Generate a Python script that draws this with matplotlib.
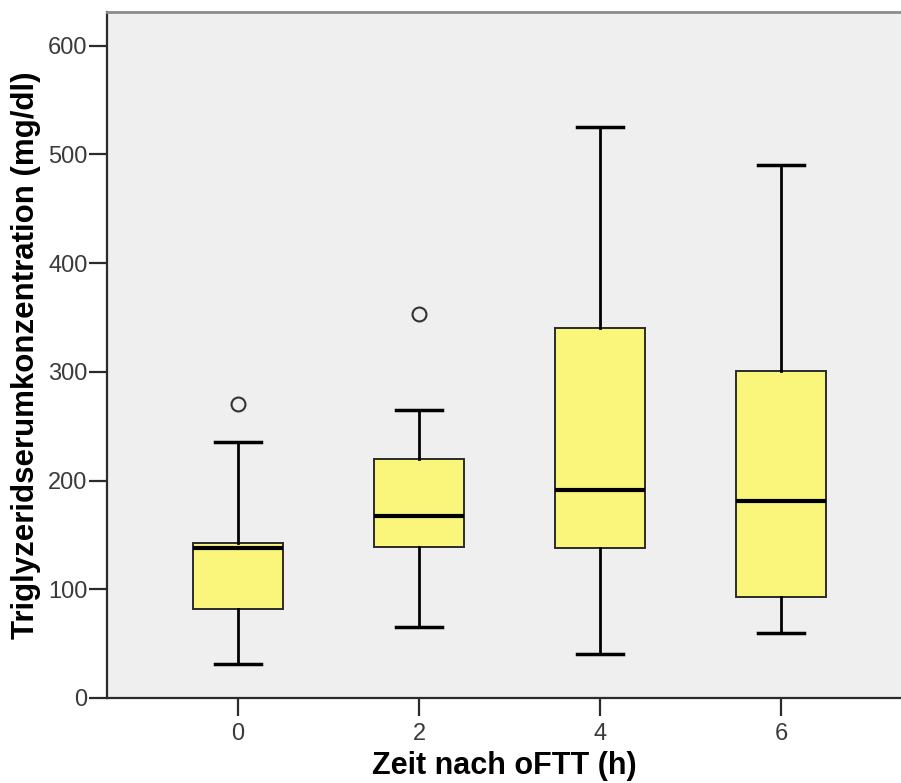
import matplotlib
matplotlib.use("Agg")
import matplotlib.pyplot as plt

zeitpunkte = [0, 2, 4, 6]
whisker_unten = [31, 65, 40, 60]
q1 = [82, 139, 138, 93]
median = [138, 167, 191, 181]
q3 = [143, 220, 340, 301]
whisker_oben = [235, 265, 525, 490]
ausreisser = [[270], [353], [], []]

plt.rcParams['font.family'] = ['Liberation Sans', 'DejaVu Sans']

fig = plt.figure(figsize=(9.01, 7.83), dpi=100)
ax = fig.add_axes([0.1188, 0.1086, 0.8812, 0.8761])
ax.set_facecolor('#efefef')

stats = []
for i in range(len(zeitpunkte)):
    stats.append({
        'whislo': whisker_unten[i], 'q1': q1[i], 'med': median[i],
        'q3': q3[i], 'whishi': whisker_oben[i], 'fliers': ausreisser[i],
    })

ax.bxp(stats, positions=zeitpunkte, widths=1.0, patch_artist=True,
       boxprops=dict(facecolor='#f9f67b', edgecolor='#2b2b2b', linewidth=1.4),
       medianprops=dict(color='black', linewidth=3),
       whiskerprops=dict(color='black', linewidth=2),
       capprops=dict(color='black', linewidth=2.5),
       capwidths=0.5,
       flierprops=dict(marker='o', markerfacecolor='none', markeredgecolor='#333333',
                       markersize=10, markeredgewidth=1.5))

ax.set_xlim(-1.447, 7.326)
ax.set_ylim(0, 631)
ax.set_yticks([0, 100, 200, 300, 400, 500, 600])
ax.set_xticks(zeitpunkte)
ax.set_xticklabels([str(z) for z in zeitpunkte])

for s in ['left', 'bottom']:
    ax.spines[s].set_color('#2b2b2b')
    ax.spines[s].set_linewidth(1.6)
ax.spines['top'].set_color('#8c8c8c')
ax.spines['top'].set_linewidth(2)
ax.spines['right'].set_visible(False)

ax.tick_params(axis='both', length=13, width=1.6, color='#2b2b2b',
               labelsize=17, labelcolor='#3a3a3a', pad=1)
ax.tick_params(axis='x', pad=5)

ax.set_xlabel('Zeit nach oFTT (h)', fontsize=22, fontweight='bold', labelpad=4)
ax.set_ylabel('Triglyzeridserumkonzentration (mg/dl)', fontsize=22.5, fontweight='bold', labelpad=5)

fig.savefig('out.png', dpi=100)
